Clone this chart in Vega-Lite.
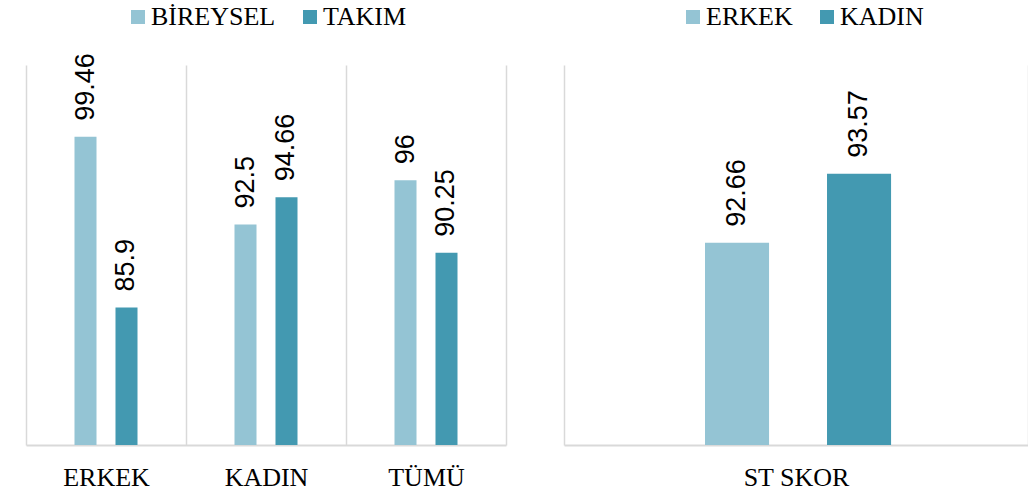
{
  "$schema": "https://vega.github.io/schema/vega-lite/v6.json",
  "padding": {"left": 26, "top": 4, "right": 0, "bottom": 0},
  "background": "white",
  "config": {
    "view": {"stroke": null},
    "axis": {
      "labelFont": "Liberation Serif",
      "labelFontSize": 26,
      "labelColor": "#000000",
      "labelAngle": 0,
      "labelPadding": 19,
      "ticks": false,
      "tickSize": 0,
      "domainColor": "#d9d9d9",
      "domainWidth": 2,
      "gridColor": "#d9d9d9",
      "gridWidth": 1.5,
      "title": null
    },
    "legend": {
      "labelFont": "Liberation Serif",
      "labelFontSize": 26,
      "labelColor": "#000000",
      "symbolType": "square",
      "symbolSize": 196,
      "symbolStrokeWidth": 0,
      "labelOffset": 0,
      "columnPadding": 21,
      "title": null
    }
  },
  "spacing": 58,
  "bounds": "flush",
  "hconcat": [
    {
      "width": 480,
      "height": 380,
      "data": {
        "values": [
          {"grup": "ERKEK", "tur": "BİREYSEL", "deger": 99.46},
          {"grup": "ERKEK", "tur": "TAKIM", "deger": 85.9},
          {"grup": "KADIN", "tur": "BİREYSEL", "deger": 92.5},
          {"grup": "KADIN", "tur": "TAKIM", "deger": 94.66},
          {"grup": "TÜMÜ", "tur": "BİREYSEL", "deger": 96},
          {"grup": "TÜMÜ", "tur": "TAKIM", "deger": 90.25}
        ]
      },
      "encoding": {
        "x": {
          "field": "grup", "type": "nominal", "sort": ["ERKEK", "KADIN", "TÜMÜ"],
          "scale": {"paddingInner": 0, "paddingOuter": 0},
          "axis": {"tickBand": "extent", "grid": true, "title": null}
        },
        "xOffset": {
          "field": "tur", "type": "nominal",
          "scale": {"domain": ["_a", "BİREYSEL", "TAKIM", "_b"], "paddingInner": 0.463, "paddingOuter": 0.183}
        },
        "y": {
          "field": "deger", "type": "quantitative",
          "scale": {"domain": [75, 105.15], "zero": false, "nice": false},
          "axis": null
        }
      },
      "layer": [
        {
          "mark": {"type": "bar"},
          "encoding": {
            "y2": {"datum": 75},
            "color": {
              "field": "tur", "type": "nominal",
              "scale": {"domain": ["BİREYSEL", "TAKIM"], "range": ["#94c4d4", "#4399b1"]},
              "legend": {"orient": "none", "direction": "horizontal", "legendX": 99, "legendY": -61, "title": null, "labelFont": "Liberation Serif", "labelFontSize": 26}
            }
          }
        },
        {
          "mark": {"type": "text", "angle": 270, "align": "left", "baseline": "middle", "dx": 16, "fontSize": 27, "font": "Liberation Sans Narrow, Arial Narrow, Liberation Sans", "color": "#000000"},
          "encoding": {"text": {"field": "deger", "type": "nominal"}}
        }
      ]
    },
    {
      "width": 464,
      "height": 380,
      "data": {
        "values": [
          {"grup": "ST SKOR", "cins": "ERKEK", "deger": 92.66},
          {"grup": "ST SKOR", "cins": "KADIN", "deger": 93.57}
        ]
      },
      "encoding": {
        "x": {
          "field": "grup", "type": "nominal",
          "scale": {"paddingInner": 0, "paddingOuter": 0},
          "axis": {"tickBand": "extent", "grid": true, "title": null}
        },
        "xOffset": {
          "field": "cins", "type": "nominal",
          "scale": {"domain": ["_a", "ERKEK", "KADIN", "_b"], "paddingInner": 0.475, "paddingOuter": 0.139, "align": 0.56}
        },
        "y": {
          "field": "deger", "type": "quantitative",
          "scale": {"domain": [90, 95], "zero": false, "nice": false},
          "axis": null
        }
      },
      "layer": [
        {
          "mark": {"type": "bar"},
          "encoding": {
            "y2": {"datum": 90},
            "color": {
              "field": "cins", "type": "nominal",
              "scale": {"domain": ["ERKEK", "KADIN"], "range": ["#94c4d4", "#4399b1"]},
              "legend": {"orient": "none", "direction": "horizontal", "legendX": 116, "legendY": -61, "title": null, "labelFont": "Liberation Serif", "labelFontSize": 26}
            }
          }
        },
        {
          "mark": {"type": "text", "angle": 270, "align": "left", "baseline": "middle", "dx": 16, "fontSize": 27, "font": "Liberation Sans Narrow, Arial Narrow, Liberation Sans", "color": "#000000"},
          "encoding": {"text": {"field": "deger", "type": "nominal"}}
        }
      ]
    }
  ],
  "resolve": {
    "scale": {"color": "independent", "y": "independent", "x": "independent", "xOffset": "independent"},
    "legend": {"color": "independent"}
  }
}
